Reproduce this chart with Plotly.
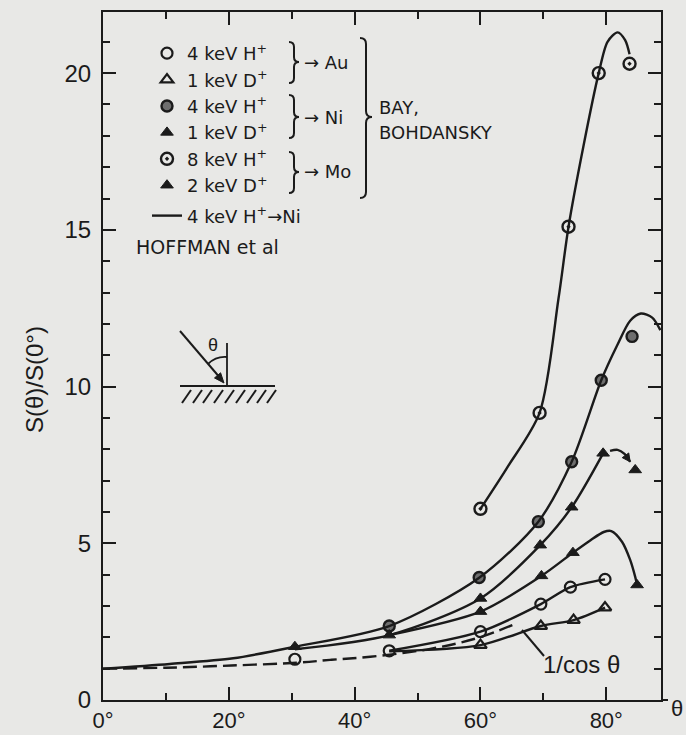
import math
import plotly.graph_objects as go

# ---------------- data ----------------
x_ticks = [0, 20, 40, 60, 80]
x_tick_text = ["0°", "20°", "40°", "60°", "80°"]
y_ticks = [0, 5, 10, 15, 20]
y_tick_text = ["0", "5", "10", "15", "20"]

# Bay & Bohdansky measured points (angle in deg, S(theta)/S(0))
au_h_angle = [30.5, 45.5, 60, 69.6, 74.3, 79.8]
au_h_ratio = [1.30, 1.57, 2.18, 3.06, 3.60, 3.85]
au_d_angle = [60, 69.6, 74.8, 79.8]
au_d_ratio = [1.75, 2.36, 2.55, 2.95]
ni_h_angle = [45.5, 59.8, 69.2, 74.5, 79.2, 84.1]
ni_h_ratio = [2.36, 3.91, 5.69, 7.60, 10.2, 11.6]
ni_d_angle = [30.5, 45.5, 60, 69.5, 74.5, 79.5, 84.6]
ni_d_ratio = [1.70, 2.07, 3.24, 4.94, 6.15, 7.87, 7.34]
mo_h_angle = [60, 69.4, 74.0, 78.8, 83.7]
mo_h_ratio = [6.10, 9.16, 15.1, 20.0, 20.3]
mo_d_angle = [60, 69.7, 74.7, 84.9]
mo_d_ratio = [2.82, 3.96, 4.70, 3.67]

# hand drawn curves through the data
hoffman_angle = [0, 10.6, 20.7, 30.5, 45.5, 59.8, 69.2, 74.5, 79.2, 81.7, 83.8, 85.5, 87.3, 88.6]
hoffman_ratio = [1.0, 1.15, 1.33, 1.70, 2.36, 3.90, 5.69, 7.60, 10.2, 11.3, 12.1, 12.33, 12.2, 11.8]
mo_h_fit_angle = [60, 64.2, 69.4, 72.4, 74.0, 76.4, 78.8, 80.2, 81.8, 83.0, 83.7]
mo_h_fit_ratio = [6.1, 7.4, 9.16, 12.8, 15.1, 17.7, 20.0, 21.0, 21.3, 21.05, 20.6]
ni_d_fit_angle = [30.5, 45.5, 60, 69.5, 74.5, 79.5]
ni_d_fit_ratio = [1.62, 2.07, 3.24, 4.94, 6.15, 7.87]
ni_d_arc_angle = [80.6, 81.8, 82.9, 83.8]
ni_d_arc_ratio = [7.95, 7.98, 7.85, 7.60]
mo_d_fit_angle = [45.5, 60, 69.7, 74.7, 77.5, 79.6, 80.8, 82.5, 83.8, 84.6, 84.9]
mo_d_fit_ratio = [2.07, 2.82, 3.96, 4.70, 5.10, 5.36, 5.39, 5.05, 4.47, 3.93, 3.67]
au_h_fit_angle = [45.5, 60, 69.6, 74.3, 79.8]
au_h_fit_ratio = [1.57, 2.18, 3.06, 3.60, 3.85]
au_d_fit_angle = [45.5, 60, 69.6, 74.8, 79.8]
au_d_fit_ratio = [1.55, 1.75, 2.36, 2.55, 2.95]
inv_cos_angle = [0, 10, 20.4, 30.8, 36.1, 42.5, 52, 59.4, 65.8]
inv_cos_ratio = [1.0, 1.03, 1.10, 1.19, 1.28, 1.38, 1.63, 1.97, 2.45]

# ---------------- layout helpers ----------------
W, H = 686, 735
ML, MR, MT, MB = 103, 25, 12, 35
PW, PH = W - ML - MR, H - MT - MB
X_RANGE = [0, 88.7]
Y_RANGE = [0, 21.95]
INK = "#1b1b1b"
BG = "#e8e8e6"
TXT = "DejaVu Sans"
NUM = "Liberation Sans"


def pxx(x):
    return (x - ML) / PW


def pxy(y):
    return (H - MB - y) / PH


def P(x, y):
    return f"{pxx(x):.5f},{pxy(y):.5f}"


def data_px(a, r):
    return (ML + (a - X_RANGE[0]) * PW / (X_RANGE[1] - X_RANGE[0]),
            H - MB - (r - Y_RANGE[0]) * PH / (Y_RANGE[1] - Y_RANGE[0]))


fig = go.Figure()

line_style = dict(color=INK, width=2.4, shape="spline", smoothing=0.8)

# fitted curves (no legend)
for xs, ys in [(mo_h_fit_angle, mo_h_fit_ratio), (ni_d_fit_angle, ni_d_fit_ratio),
               (ni_d_arc_angle, ni_d_arc_ratio), (mo_d_fit_angle, mo_d_fit_ratio),
               (au_h_fit_angle, au_h_fit_ratio), (au_d_fit_angle, au_d_fit_ratio)]:
    fig.add_trace(go.Scatter(x=xs, y=ys, mode="lines", line=line_style,
                             showlegend=False, hoverinfo="skip"))

fig.add_trace(go.Scatter(x=inv_cos_angle, y=inv_cos_ratio, mode="lines",
                         line=dict(color=INK, width=2.4, dash="14px,6px", shape="spline"),
                         showlegend=False, hoverinfo="skip"))

# measured points (legend entries)
series = [
    ("4 keV H<sup>+</sup>", au_h_angle, au_h_ratio, dict(symbol="circle-open", size=11, color=INK, line=dict(width=2.2, color=INK))),
    ("1 keV D<sup>+</sup>", au_d_angle, au_d_ratio, dict(symbol="triangle-up-open", size=11, color=INK, line=dict(width=2.2, color=INK))),
    ("4 keV H<sup>+</sup>", ni_h_angle, ni_h_ratio, dict(symbol="circle", size=11, color="#6e6e6e", line=dict(width=2.4, color=INK))),
    ("1 keV D<sup>+</sup>", ni_d_angle, ni_d_ratio, dict(symbol="triangle-up", size=11, color=INK, line=dict(width=1, color=INK))),
    ("8 keV H<sup>+</sup>", mo_h_angle, mo_h_ratio, dict(symbol="circle-open-dot", size=12, color=INK, line=dict(width=2.4, color=INK))),
    ("2 keV D<sup>+</sup>", mo_d_angle, mo_d_ratio, dict(symbol="triangle-up", size=11, color=INK, line=dict(width=1, color=INK))),
]
for name, xs, ys, mk in series:
    fig.add_trace(go.Scatter(x=xs, y=ys, mode="markers", name=name, marker=mk,
                             legendgroup="bb", cliponaxis=False))

# Hoffman et al. curve
fig.add_trace(go.Scatter(x=hoffman_angle, y=hoffman_ratio, mode="lines",
                         name="4 keV H<sup>+</sup>→Ni", line=line_style,
                         legendgroup="hf"))

ax_common = dict(ticks="inside", ticklen=13, tickwidth=2, tickcolor=INK,
                 showline=True, linewidth=2, linecolor=INK, mirror="ticks",
                 showgrid=False, zeroline=False, fixedrange=True)

fig.update_xaxes(range=X_RANGE, tickmode="array", tickvals=x_ticks, ticktext=x_tick_text,
                 minor=dict(ticks="inside", ticklen=7, tickwidth=2, tickcolor=INK, dtick=10, tick0=0),
                 ticklabelstandoff=0, tickfont=dict(family=NUM, size=22, color=INK), **ax_common)
fig.update_yaxes(range=Y_RANGE, tickmode="array", tickvals=y_ticks, ticktext=y_tick_text,
                 minor=dict(ticks="inside", ticklen=7, tickwidth=2, tickcolor=INK, dtick=1, tick0=0),
                 ticklabelstandoff=5, tickfont=dict(family=NUM, size=24, color=INK), **ax_common)

annotations = []
shapes = []


def text(x, y, s, size=18, family=TXT, xanchor="left", angle=0):
    annotations.append(dict(x=pxx(x), y=pxy(y), xref="paper", yref="paper", text=s,
                            showarrow=False, xanchor=xanchor, yanchor="middle",
                            textangle=angle, font=dict(family=family, size=size, color=INK)))


def line(x0, y0, x1, y1, w=2):
    shapes.append(dict(type="line", xref="paper", yref="paper", x0=pxx(x0), y0=pxy(y0),
                       x1=pxx(x1), y1=pxy(y1), line=dict(color=INK, width=w)))


def arrow_head(tx, ty, fx, fy, length=9, half=4):
    dx, dy = tx - fx, ty - fy
    n = math.hypot(dx, dy)
    ux, uy = dx / n, dy / n
    bx, by = tx - length * ux, ty - length * uy
    p1 = (bx - half * uy, by + half * ux)
    p2 = (bx + half * uy, by - half * ux)
    shapes.append(dict(type="path", xref="paper", yref="paper",
                       path=f"M{P(tx, ty)} L{P(*p1)} L{P(*p2)} Z",
                       fillcolor=INK, line=dict(color=INK, width=1)))


def brace(x0, yt, yb, ym, w, r):
    x1, x2 = x0 + w / 2, x0 + w
    path = (f"M{P(x0, yt)} Q{P(x1, yt)} {P(x1, yt + r)} L{P(x1, ym - r)} "
            f"Q{P(x1, ym)} {P(x2, ym)} Q{P(x1, ym)} {P(x1, ym + r)} "
            f"L{P(x1, yb - r)} Q{P(x1, yb)} {P(x0, yb)}")
    shapes.append(dict(type="path", xref="paper", yref="paper", path=path,
                       line=dict(color=INK, width=2)))


# axis titles
text(34, 380, "S(θ)/S(0°)", size=24, family=NUM, xanchor="center", angle=-90)
text(677, 708, "θ", size=22, family=NUM, xanchor="center")
line(661, 700, 668, 700)

# legend decorations
brace(289, 42, 83, 62, 10, 5)
brace(289, 95, 138, 117, 10, 5)
brace(289, 152, 193, 172, 10, 5)
brace(360, 38, 198, 117, 12, 6)
text(302, 62, "→ Au")
text(302, 117, "→ Ni")
text(302, 172, "→ Mo")
text(377, 107, "BAY,")
text(377, 132, "BOHDANSKY")
text(134, 247, "HOFFMAN et al", size=19)

# 1/cos label with leader
text(581, 664, "1/cos θ", size=24, family=NUM, xanchor="center")
line(544, 656, 522, 630, 2)

# arrow head on the Ni D+ arc
tip = data_px(ni_d_arc_angle[-1], ni_d_arc_ratio[-1])
prev = data_px(ni_d_arc_angle[-2], ni_d_arc_ratio[-2])
arrow_head(tip[0], tip[1], prev[0], prev[1], length=8, half=4)

# inset: incidence geometry sketch
line(180, 386, 275, 386, 2.2)
for hx in [182, 193, 203, 214, 225, 236, 247, 257, 267]:
    line(hx, 403, hx + 9, 390, 2)
line(227, 386, 227, 343, 1.8)
line(180, 331, 221, 379, 2)
arrow_head(224, 383, 180, 331, length=10, half=4)
shapes.append(dict(type="path", xref="paper", yref="paper",
                   path=f"M{P(208, 364)} Q{P(216, 356)} {P(227, 357)}",
                   line=dict(color=INK, width=1.8)))
text(213, 345, "θ", size=18, family=NUM, xanchor="center")

fig.update_layout(
    width=W, height=H,
    margin=dict(l=ML, r=MR, t=MT, b=MB, autoexpand=False),
    paper_bgcolor=BG, plot_bgcolor=BG,
    showlegend=True,
    legend=dict(x=pxx(147), y=pxy(35), xanchor="left", yanchor="top",
                bgcolor="rgba(0,0,0,0)", borderwidth=0, tracegroupgap=4,
                font=dict(family=TXT, size=18, color=INK), itemclick=False,
                itemdoubleclick=False),
    annotations=annotations, shapes=shapes,
)

fig.write_html("out.html", config={"displayModeBar": False})
